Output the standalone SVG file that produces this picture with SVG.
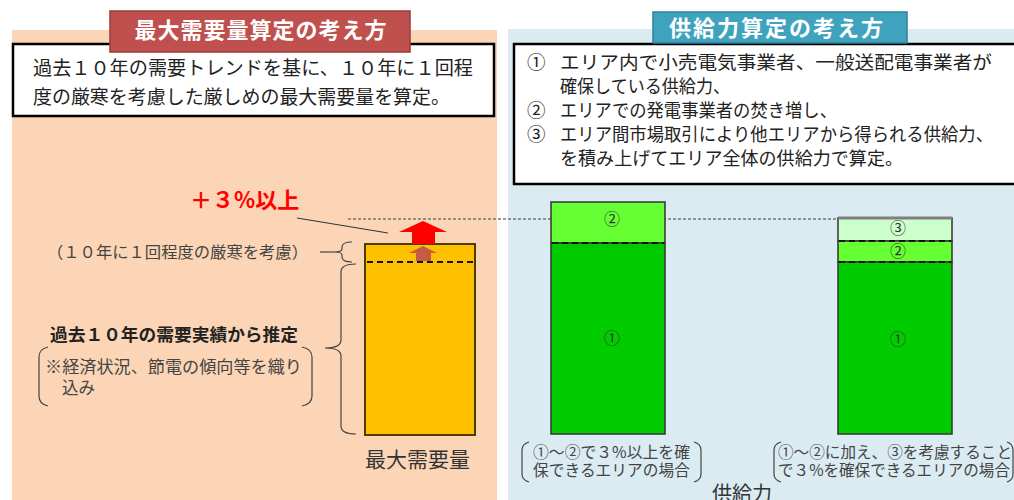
<svg xmlns="http://www.w3.org/2000/svg" width="1014" height="500" viewBox="0 0 1014 500">
<style>
text{font-family:"Noto Sans CJK JP","Noto Sans CJK SC",sans-serif;}
.hdr{fill:#fff;font-weight:bold;text-anchor:middle;}
.body{fill:#222;}
.gray{fill:#444;}
.num{font-size:16px;fill:#333;text-anchor:middle;}
.box{fill:#fff;stroke:#000;stroke-width:2.5;}
.brk{fill:none;stroke:#444;stroke-width:1.2;}
.dash{stroke:#111;stroke-width:2;stroke-dasharray:6 4;}
.bar{stroke:#333;stroke-width:1.5;}
</style>
<rect x="12" y="30" width="485" height="470" fill="#FBD5B5"/>
<rect x="508" y="29" width="506" height="471" fill="#DAEBF2"/>

<g id="left-textbox">
<rect class="box" x="13" y="44" width="481" height="72"/>
<text class="body" x="33" y="75" font-size="19" textLength="440" lengthAdjust="spacingAndGlyphs">過去１０年の需要トレンドを基に、１０年に１回程</text>
<text class="body" x="33" y="104" font-size="19" textLength="417" lengthAdjust="spacingAndGlyphs">度の厳寒を考慮した厳しめの最大需要量を算定。</text>
</g>
<g id="left-header">
<rect x="110" y="11" width="300" height="41" fill="#C0504D" stroke="#9a3b39" stroke-width="1.5"/>
<text class="hdr" x="261" y="38" font-size="22" letter-spacing="1">最大需要量算定の考え方</text>
</g>

<g id="right-textbox">
<rect class="box" x="514" y="44" width="510" height="140"/>
<g class="body" font-size="18.5">
<text x="527" y="69">①</text><text x="560" y="69" textLength="432" lengthAdjust="spacingAndGlyphs">エリア内で小売電気事業者、一般送配電事業者が</text>
<text x="560" y="93" textLength="170" lengthAdjust="spacingAndGlyphs">確保している供給力、</text>
<text x="527" y="117">②</text><text x="560" y="117" textLength="277" lengthAdjust="spacingAndGlyphs">エリアでの発電事業者の焚き増し、</text>
<text x="527" y="141">③</text><text x="560" y="141" textLength="433" lengthAdjust="spacingAndGlyphs">エリア間市場取引により他エリアから得られる供給力、</text>
<text x="560" y="165" textLength="343" lengthAdjust="spacingAndGlyphs">を積み上げてエリア全体の供給力で算定。</text>
</g>
</g>
<g id="right-header">
<rect x="653" y="12" width="254" height="31" fill="#3FA3BE" stroke="#2f8299" stroke-width="1.5"/>
<text class="hdr" x="777" y="36" font-size="22" letter-spacing="2">供給力算定の考え方</text>
</g>

<g id="connectors">
<line x1="348" y1="219" x2="838" y2="219" stroke="#777" stroke-width="1.5" stroke-dasharray="3 2"/>
<line x1="297" y1="218" x2="388" y2="233" stroke="#333" stroke-width="1"/>
<line x1="320" y1="252" x2="334" y2="252" stroke="#444" stroke-width="1.2"/>
<path class="brk" d="M352,242 Q342,242 342,247 L342,249 Q342,252 334,252 Q342,252 342,255 L342,257 Q342,262 352,262"/>
<path class="brk" d="M356,264 Q341,264 341,272 L341,340 Q341,348 325,348 Q341,348 341,356 L341,426 Q341,434 356,434"/>
<path class="brk" d="M48,347 Q39,349 39,357 L39,396 Q39,404 48,406"/>
<path class="brk" d="M302,347 Q312,349 312,357 L312,396 Q312,404 302,406"/>
<path class="brk" d="M529,442 Q522,444 522,450 L522,474 Q522,480 529,482"/>
<path class="brk" d="M694,442 Q701,444 701,450 L701,474 Q701,480 694,482"/>
<path class="brk" d="M781,442 Q774,444 774,450 L774,474 Q774,480 781,482"/>
<path class="brk" d="M1007,442 Q1013,444 1013,450 L1013,474 Q1013,480 1007,482"/>
</g>

<g id="demand-bar">
<rect x="365" y="244" width="110" height="191" fill="#FFC000" stroke="#4d3d00" stroke-width="2"/>
<polygon points="423,246 437,253 431,253 431,261 416,261 416,253 409,253" fill="#C0504D" opacity="0.9"/>
<line class="dash" x1="367" y1="262" x2="473" y2="262"/>
<polygon points="423,221 447,232 435,232 435,244 412,244 412,232 399,232" fill="#FF0000"/>
</g>

<g id="left-labels">
<text x="190" y="208" font-size="22" font-weight="bold" fill="#FF0000">＋３%以上</text>
<text class="gray" x="47" y="258" font-size="16" textLength="261" lengthAdjust="spacingAndGlyphs">（１０年に１回程度の厳寒を考慮）</text>
<text class="body" x="50" y="341" font-size="17.5" font-weight="bold" textLength="248" lengthAdjust="spacingAndGlyphs">過去１０年の需要実績から推定</text>
<text class="gray" x="45" y="373" font-size="16.5" textLength="257" lengthAdjust="spacingAndGlyphs">※経済状況、節電の傾向等を織り</text>
<text class="gray" x="62" y="394" font-size="16.5">込み</text>
<text fill="#333" x="365" y="467" font-size="21">最大需要量</text>
</g>

<g id="supply-bar-1">
<rect class="bar" x="551" y="202" width="114" height="41" fill="#66FF33"/>
<rect class="bar" x="551" y="243" width="114" height="191" fill="#00CC00"/>
<line class="dash" x1="552" y1="243" x2="664" y2="243"/>
<text class="num" x="612" y="225">②</text>
<text class="num" x="612" y="344">①</text>
</g>

<g id="supply-bar-2">
<rect class="bar" x="838" y="218" width="114" height="23" fill="#CCFFCC"/>
<rect class="bar" x="838" y="241" width="114" height="21" fill="#66FF33"/>
<rect class="bar" x="838" y="262" width="114" height="172" fill="#00CC00"/>
<line x1="838" y1="218" x2="952" y2="218" stroke="#7f7f7f" stroke-width="3"/>
<line class="dash" x1="839" y1="241" x2="951" y2="241"/>
<line class="dash" x1="839" y1="262" x2="951" y2="262"/>
<text class="num" x="898" y="234" fill="#666">③</text>
<text class="num" x="898" y="257">②</text>
<text class="num" x="898" y="345">①</text>
</g>

<g id="right-labels" class="gray" font-size="15.5">
<text x="533" y="458" textLength="157" lengthAdjust="spacingAndGlyphs">①～②で３%以上を確</text>
<text x="533" y="476" textLength="157" lengthAdjust="spacingAndGlyphs">保できるエリアの場合</text>
<text x="778" y="458" textLength="234" lengthAdjust="spacingAndGlyphs">①～②に加え、③を考慮すること</text>
<text x="778" y="476" textLength="232" lengthAdjust="spacingAndGlyphs">で３%を確保できるエリアの場合</text>
<text x="712" y="501" font-size="20" fill="#333">供給力</text>
</g>
</svg>
